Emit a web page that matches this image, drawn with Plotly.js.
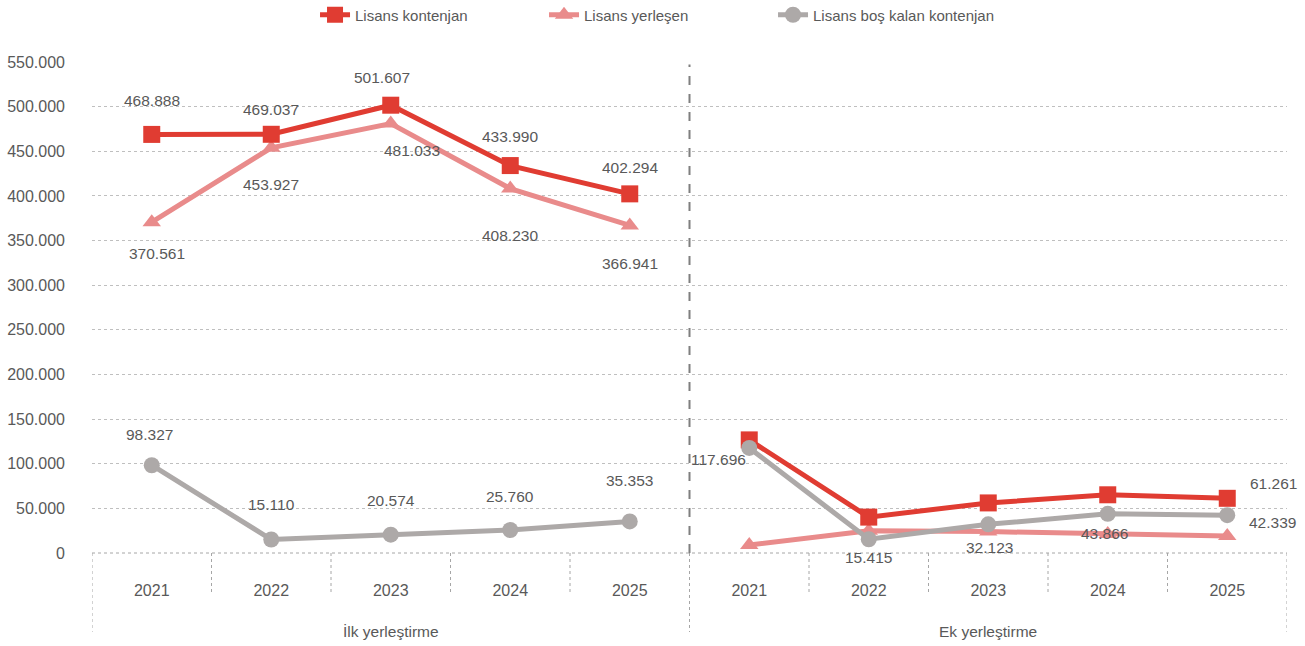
<!DOCTYPE html>
<html>
<head>
<meta charset="utf-8">
<script src="https://cdn.plot.ly/plotly-3.0.1.min.js"></script>
<style>html,body{margin:0;padding:0;background:#fff;}#chart{width:1305px;height:646px;}</style>
</head>
<body>
<div id="chart"></div>
<script>
// ---- data ----
const years = ["2021", "2022", "2023", "2024", "2025"];
const groups = ["İlk yerleştirme", "Ek yerleştirme"];
const seriesNames = ["Lisans kontenjan", "Lisans yerleşen", "Lisans boş kalan kontenjan"];

const ilkKontenjan = [468888, 469037, 501607, 433990, 402294];
const ilkYerlesen  = [370561, 453927, 481033, 408230, 366941];
const ilkBos       = [98327, 15110, 20574, 25760, 35353];

const ekKontenjan = [126700, 40200, 56100, 65200, 61261];
const ekYerlesen  = [9000, 24800, 24000, 21300, 18922];
const ekBos       = [117696, 15415, 32123, 43866, 42339];

// ---- styling ----
const FONT = "'Liberation Sans', Arial, sans-serif";
const TXT = "#595959";
const colors = ["#E03C32", "#E98B8B", "#ADA9A8"];
const symbols = ["square", "triangle-up", "circle"];
const msizes = [17, 16, 16];

const xIlk = years.map((_, i) => i);
const xEk = years.map((_, i) => i + years.length);
const xAll = xIlk.concat([null], xEk);
const join = (a, b) => a.concat([null], b);

const ys = [join(ilkKontenjan, ekKontenjan), join(ilkYerlesen, ekYerlesen), join(ilkBos, ekBos)];

const drawOrder = [1, 0, 2];
const traces = drawOrder.map(k => ({
  type: "scatter", mode: "lines+markers",
  name: seriesNames[k], x: xAll, y: ys[k], connectgaps: false,
  line: {color: colors[k], width: 5},
  marker: {symbol: symbols[k], size: msizes[k], color: colors[k]},
  legendrank: k + 1, hoverinfo: "skip"
}));

// label offsets (px) per point: [dx, dy] ; null = no label
const fmt = v => v.toLocaleString("de-DE");
const labelOffsets = [
  // kontenjan
  [[0,-34],[0,-25],[-9,-28],[0,-29],[0,-26], null,null,null,null,[46,-15]],
  // yerlesen
  [[5,31],[0,37],[21,27],[0,47],[0,38], null,null,null,null,null],
  // bos
  [[-2,-31],[0,-35],[0,-34],[0,-34],[0,-41], [-31,12],[0,18],[1,23],[-3,20],[45,7]]
];
const seriesVals = [
  ilkKontenjan.concat(ekKontenjan),
  ilkYerlesen.concat(ekYerlesen),
  ilkBos.concat(ekBos)
];
const annotations = [];
labelOffsets.forEach((offs, k) => {
  offs.forEach((o, i) => {
    if (!o) return;
    annotations.push({
      x: i, y: seriesVals[k][i], xref: "x", yref: "y",
      text: fmt(seriesVals[k][i]), showarrow: false,
      xshift: o[0], yshift: -o[1],
      font: {family: FONT, size: 15.5, color: TXT}
    });
  });
});
groups.forEach((g, j) => {
  annotations.push({
    x: j * years.length + (years.length - 1) / 2, y: 0, xref: "x", yref: "paper",
    text: g, showarrow: false, yanchor: "middle", yshift: -78,
    font: {family: FONT, size: 15.5, color: TXT}
  });
});

const H = 491;
const shapes = [];
const n = years.length * groups.length;
for (let b = 0; b <= n; b++) {
  const long = (b % years.length === 0);
  shapes.push({
    type: "line", xref: "x", yref: "paper",
    x0: b - 0.5, x1: b - 0.5, y0: 0, y1: long ? -79 / H : -39 / H,
    line: {color: "#A6A6A6", width: 1, dash: "dot"}
  });
}
shapes.push({
  type: "line", xref: "x", yref: "paper", x0: -0.5, x1: n - 0.5, y0: 0, y1: 0,
  line: {color: "#A6A6A6", width: 1, dash: "dot"}
});
shapes.push({
  type: "line", xref: "x", yref: "paper",
  x0: years.length - 0.5, x1: years.length - 0.5, y0: 0, y1: 0.995,
  line: {color: "#7F7F7F", width: 2, dash: "dash"}, layer: "below"
});

const layout = {
  width: 1305, height: 646,
  margin: {l: 92, r: 18, t: 62, b: 93},
  paper_bgcolor: "#fff", plot_bgcolor: "#fff",
  separators: ",.",
  font: {family: FONT, size: 16, color: TXT},
  showlegend: true,
  legend: {orientation: "h", xref: "container", yref: "container",
    x: 0.2414, xanchor: "left", y: 1 - 15 / 646, yanchor: "middle",
    font: {family: FONT, size: 15, color: TXT}, entrywidth: 184, entrywidthmode: "pixels",
    traceorder: "normal"},
  xaxis: {
    range: [-0.5, n - 0.5], showgrid: false, zeroline: false, showline: false,
    tickvals: years.concat(years).map((_, i) => i),
    ticktext: years.concat(years),
    ticks: "", ticklabelstandoff: 26,
    tickfont: {family: FONT, size: 16, color: TXT}
  },
  yaxis: {
    range: [0, 550000], dtick: 50000, tickformat: ",d",
    showgrid: true, gridcolor: "#BFBFBF", griddash: "dot", gridwidth: 1,
    zeroline: false, showline: false, ticks: "", ticklabelstandoff: 26,
    tickfont: {family: FONT, size: 16, color: TXT}
  },
  annotations: annotations,
  shapes: shapes
};

Plotly.newPlot("chart", traces, layout, {displayModeBar: false, staticPlot: true});
</script>
</body>
</html>
